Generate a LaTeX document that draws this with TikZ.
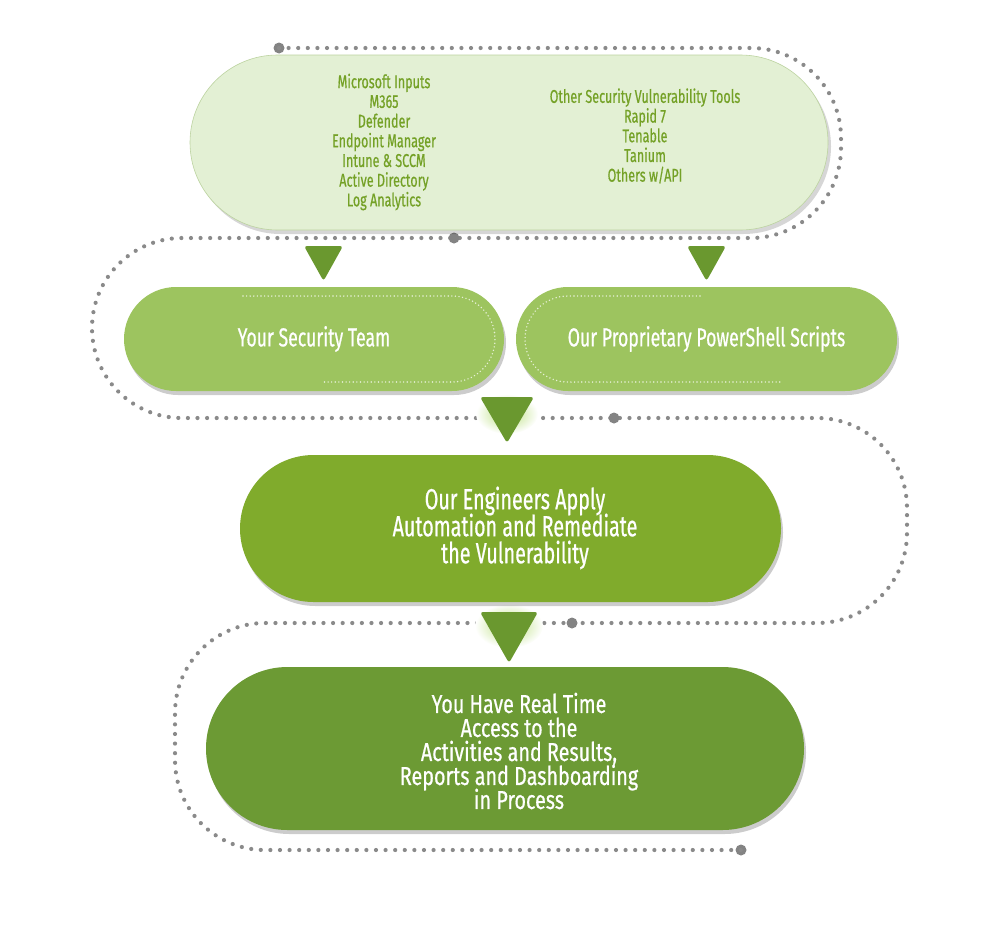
\documentclass[tikz,border=0pt]{standalone}
\usepackage{fontspec}
\setmainfont{Fira Sans}[FakeStretch=0.68,FakeBold=0.6]
\newfontfamily\widerfont{Fira Sans}[FakeStretch=0.76,FakeBold=0.6]
\usetikzlibrary{shapes.misc,shadows}
\definecolor{topfill}{HTML}{E3F0D4}
\definecolor{topdraw}{HTML}{BCD3A0}
\definecolor{toptext}{HTML}{74A126}
\definecolor{boxA}{HTML}{9DC45F}
\definecolor{boxB}{HTML}{80AB2C}
\definecolor{boxC}{HTML}{6C9A34}
\definecolor{trigreen}{HTML}{6A982F}
\definecolor{dotgray}{HTML}{8A8A8A}
\definecolor{glowgreen}{HTML}{B8DE7A}
\newcommand\mytightlines{\lineskiplimit=-100pt\relax\lineskip=0pt\relax}
\begin{document}
\begin{tikzpicture}[x=1pt,y=-1pt,
  pill/.style={rounded rectangle, inner sep=0pt, align=center, text=white,
    drop shadow={shadow xshift=2pt, shadow yshift=-4pt, opacity=0.2, fill=black}},
  pilltext/.style={align=center, text=white, inner sep=0pt},
  dotline/.style={draw=dotgray, line width=4.2pt, line cap=round,
    dash pattern=on 0pt off 9.6pt, rounded corners=90pt},
  bigdot/.style={circle, fill=dotgray!95!black, inner sep=0pt, minimum size=11pt},
  innerdots/.style={draw=white, opacity=0.75, line width=1.6pt, line cap=round,
    dash pattern=on 0pt off 3.6pt},
  tri/.style={fill=trigreen, rounded corners=3pt},
  glow/.style={inner color=glowgreen, outer color=white},
  toptxt/.style={align=center, text=toptext, font=\fontsize{18.5}{19.7}\selectfont}
]
\useasboundingbox (0,0) rectangle (1000,937);

% dotted track
\node[bigdot] (s) at (279,48) {};
\node[bigdot] (e) at (741,850) {};
\draw[dotline] (s.center) -- (841,48) -- (841,238) -- (92,238) -- (92,418)
  -- (907,418) -- (907,623) -- (175,623) -- (175,850) -- (e.center);
\node[bigdot] (d1) at (454,238) {};
\node[bigdot] (d2) at (614,418) {};
\node[bigdot] (d3) at (572,623) {};

% glows behind the lower arrows
\shade[glow] (507,414) ellipse (31 and 20);
\shade[glow] (509,626) ellipse (34 and 22);

% top box
\node[rounded rectangle, inner sep=0pt, fill=topfill, draw=topdraw, line width=0.6pt,
  minimum width=638pt, minimum height=175pt,
  drop shadow={shadow xshift=3pt, shadow yshift=-4pt, opacity=0.16, fill=black}]
  (top) at (509,142.5) {};
\node[toptxt] (topL) at (384,142)
  {Microsoft Inputs\\M365\\Defender\\Endpoint Manager\\Intune \& SCCM\\Active Directory\\Log Analytics};
\node[toptxt] (topR) at (645,136)
  {Other Security Vulnerability Tools\\Rapid 7\\Tenable\\Tanium\\Others w/API};

% second row
\node[pill, fill=boxA, minimum width=380pt, minimum height=104pt,
  font=\fontsize{26}{30}\selectfont] (team) at (314,339) {Your Security Team};
\node[pill, fill=boxA, minimum width=381pt, minimum height=104pt,
  font=\fontsize{26}{30}\selectfont] (scripts) at (706.5,339) {Our Proprietary PowerShell Scripts};
\draw[innerdots] (243,296) -- (452,296) arc[start angle=90, end angle=-90, radius=43pt] -- (322,382);
\draw[innerdots] (700,296) -- (568,296) arc[start angle=90, end angle=270, radius=43pt] -- (780,382);

% third and fourth
\node[pill, fill=boxB, minimum width=541pt, minimum height=147pt] (eng) at (510.5,528.5) {};
\node[pilltext, font={\fontsize{29}{27}\selectfont\mytightlines}] (engT) at (515,528)
  {Our Engineers Apply\\Automation and Remediate\\the Vulnerability};
\node[pill, fill=boxC, minimum width=598pt, minimum height=163pt] (access) at (505,748.5) {};
\node[pilltext, font={\widerfont\fontsize{26}{24}\selectfont\mytightlines}] (accessT) at (519,751)
  {You Have Real Time\\Access to the\\Activities and Results,\\Reports and Dashboarding\\in Process};

% arrows
\fill[tri] (304,246) -- (343,246) -- (323.5,281) -- cycle;
\fill[tri] (687,246) -- (726,246) -- (706.5,281) -- cycle;
\fill[tri] (480,397) -- (534,397) -- (507,443) -- cycle;
\fill[tri] (480,612) -- (538,612) -- (509,663) -- cycle;
\end{tikzpicture}
\end{document}
